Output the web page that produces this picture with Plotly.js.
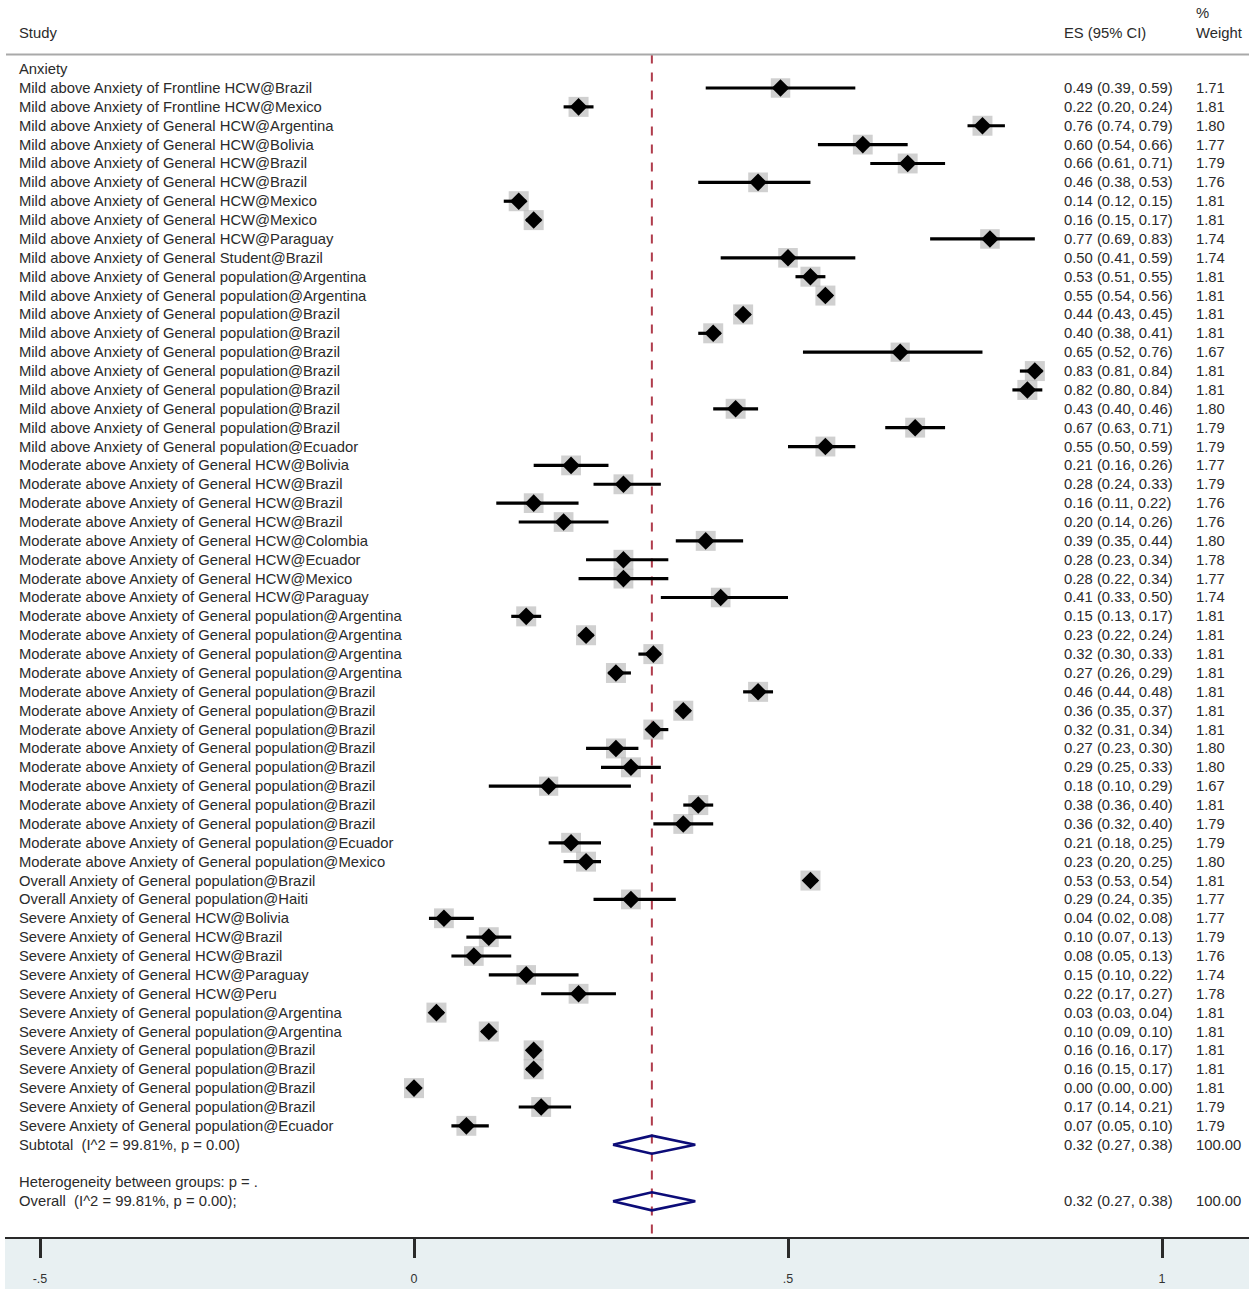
<!DOCTYPE html>
<html><head><meta charset="utf-8">
<script src="https://cdn.plot.ly/plotly-3.0.1.min.js"></script>
<style>html,body{margin:0;padding:0;background:#fff;overflow:hidden}</style>
</head><body>
<div id="chart" style="width:1249px;height:1289px"></div>
<script>
// ---------------- data ----------------
const groupTitle = "Anxiety";
const studyLabels = [
  "Mild above Anxiety of Frontline HCW@Brazil",
  "Mild above Anxiety of Frontline HCW@Mexico",
  "Mild above Anxiety of General HCW@Argentina",
  "Mild above Anxiety of General HCW@Bolivia",
  "Mild above Anxiety of General HCW@Brazil",
  "Mild above Anxiety of General HCW@Brazil",
  "Mild above Anxiety of General HCW@Mexico",
  "Mild above Anxiety of General HCW@Mexico",
  "Mild above Anxiety of General HCW@Paraguay",
  "Mild above Anxiety of General Student@Brazil",
  "Mild above Anxiety of General population@Argentina",
  "Mild above Anxiety of General population@Argentina",
  "Mild above Anxiety of General population@Brazil",
  "Mild above Anxiety of General population@Brazil",
  "Mild above Anxiety of General population@Brazil",
  "Mild above Anxiety of General population@Brazil",
  "Mild above Anxiety of General population@Brazil",
  "Mild above Anxiety of General population@Brazil",
  "Mild above Anxiety of General population@Brazil",
  "Mild above Anxiety of General population@Ecuador",
  "Moderate above Anxiety of General HCW@Bolivia",
  "Moderate above Anxiety of General HCW@Brazil",
  "Moderate above Anxiety of General HCW@Brazil",
  "Moderate above Anxiety of General HCW@Brazil",
  "Moderate above Anxiety of General HCW@Colombia",
  "Moderate above Anxiety of General HCW@Ecuador",
  "Moderate above Anxiety of General HCW@Mexico",
  "Moderate above Anxiety of General HCW@Paraguay",
  "Moderate above Anxiety of General population@Argentina",
  "Moderate above Anxiety of General population@Argentina",
  "Moderate above Anxiety of General population@Argentina",
  "Moderate above Anxiety of General population@Argentina",
  "Moderate above Anxiety of General population@Brazil",
  "Moderate above Anxiety of General population@Brazil",
  "Moderate above Anxiety of General population@Brazil",
  "Moderate above Anxiety of General population@Brazil",
  "Moderate above Anxiety of General population@Brazil",
  "Moderate above Anxiety of General population@Brazil",
  "Moderate above Anxiety of General population@Brazil",
  "Moderate above Anxiety of General population@Brazil",
  "Moderate above Anxiety of General population@Ecuador",
  "Moderate above Anxiety of General population@Mexico",
  "Overall Anxiety of General population@Brazil",
  "Overall Anxiety of General population@Haiti",
  "Severe Anxiety of General HCW@Bolivia",
  "Severe Anxiety of General HCW@Brazil",
  "Severe Anxiety of General HCW@Brazil",
  "Severe Anxiety of General HCW@Paraguay",
  "Severe Anxiety of General HCW@Peru",
  "Severe Anxiety of General population@Argentina",
  "Severe Anxiety of General population@Argentina",
  "Severe Anxiety of General population@Brazil",
  "Severe Anxiety of General population@Brazil",
  "Severe Anxiety of General population@Brazil",
  "Severe Anxiety of General population@Brazil",
  "Severe Anxiety of General population@Ecuador"
];
const es = [0.49,0.22,0.76,0.60,0.66,0.46,0.14,0.16,0.77,0.50,
            0.53,0.55,0.44,0.40,0.65,0.83,0.82,0.43,0.67,0.55,
            0.21,0.28,0.16,0.20,0.39,0.28,0.28,0.41,0.15,0.23,
            0.32,0.27,0.46,0.36,0.32,0.27,0.29,0.18,0.38,0.36,
            0.21,0.23,0.53,0.29,0.04,0.10,0.08,0.15,0.22,0.03,
            0.10,0.16,0.16,0.00,0.17,0.07];
const ciLow = [0.39,0.20,0.74,0.54,0.61,0.38,0.12,0.15,0.69,0.41,
               0.51,0.54,0.43,0.38,0.52,0.81,0.80,0.40,0.63,0.50,
               0.16,0.24,0.11,0.14,0.35,0.23,0.22,0.33,0.13,0.22,
               0.30,0.26,0.44,0.35,0.31,0.23,0.25,0.10,0.36,0.32,
               0.18,0.20,0.53,0.24,0.02,0.07,0.05,0.10,0.17,0.03,
               0.09,0.16,0.15,0.00,0.14,0.05];
const ciHigh = [0.59,0.24,0.79,0.66,0.71,0.53,0.15,0.17,0.83,0.59,
                0.55,0.56,0.45,0.41,0.76,0.84,0.84,0.46,0.71,0.59,
                0.26,0.33,0.22,0.26,0.44,0.34,0.34,0.50,0.17,0.24,
                0.33,0.29,0.48,0.37,0.34,0.30,0.33,0.29,0.40,0.40,
                0.25,0.25,0.54,0.35,0.08,0.13,0.13,0.22,0.27,0.04,
                0.10,0.17,0.17,0.00,0.21,0.10];
const weights = [1.71,1.81,1.80,1.77,1.79,1.76,1.81,1.81,1.74,1.74,
                 1.81,1.81,1.81,1.81,1.67,1.81,1.81,1.80,1.79,1.79,
                 1.77,1.79,1.76,1.76,1.80,1.78,1.77,1.74,1.81,1.81,
                 1.81,1.81,1.81,1.81,1.81,1.80,1.80,1.67,1.81,1.79,
                 1.79,1.80,1.81,1.77,1.77,1.79,1.76,1.74,1.78,1.81,
                 1.81,1.81,1.81,1.81,1.79,1.79];
const pooledES = 0.318;
const pooledLow = 0.266;
const pooledHigh = 0.376;
const pooledWeight = 100;
const subtotalLabel = "Subtotal  (I^2 = 99.81%, p = 0.00)";
const heteroLabel = "Heterogeneity between groups: p = .";
const overallLabel = "Overall  (I^2 = 99.81%, p = 0.00);";
const headerStudy = "Study";
const headerES = "ES (95% CI)";
const headerWeight1 = "%";
const headerWeight2 = "Weight";
const tickVals = [-0.5, 0, 0.5, 1];
const tickLabels = ["-.5", "0", ".5", "1"];

// ---------------- layout helpers ----------------
const W = 1249, H = 1289;
const mL = 5, mR = 0, mT = 0, mB = 52;
const zeroPx = 414, pxPerUnit = 748;
const xRange = [(mL - zeroPx) / pxPerUnit, (W - mR - zeroPx) / pxPerUnit];
const rowPx = 18.87, row1Px = 88;
const pxToRow = p => (p - row1Px) / rowPx + 1;
const yRange = [pxToRow(H - mB), pxToRow(mT)];
const plotW = W - mL - mR;
const pxToPaperX = p => (p - mL) / plotW;

const n = studyLabels.length;
const rows = studyLabels.map((_, i) => i + 1);
const subtotalRow = n + 1, heteroRow = n + 3, overallRow = n + 4;
const headerLineRow = pxToRow(54.5);

const fmt = v => v.toFixed(2);
const esText = (e, l, h) => `${fmt(e)} (${fmt(l)}, ${fmt(h)})`;

const FONT = "Liberation Sans, Arial, Helvetica, sans-serif";
const TXT = "#2b2b2b";
const FS = 14.8;
const annotations = [];
function addText(text, xpx, row, size) {
  annotations.push({
    text: text, xref: "paper", yref: "y", x: pxToPaperX(xpx), y: row,
    xanchor: "left", yanchor: "middle", showarrow: false,
    font: {family: FONT, size: size || FS, color: TXT}, borderpad: 0
  });
}
const colStudy = 18, colES = 1063, colW = 1195;
addText(headerStudy, colStudy, pxToRow(33));
addText(headerES, colES, pxToRow(33));
addText(headerWeight1, colW, pxToRow(13));
addText(headerWeight2, colW, pxToRow(33));
addText(groupTitle, colStudy, 0);
studyLabels.forEach((lab, i) => {
  addText(lab, colStudy, rows[i]);
  addText(esText(es[i], ciLow[i], ciHigh[i]), colES, rows[i]);
  addText(fmt(weights[i]), colW, rows[i]);
});
addText(subtotalLabel, colStudy, subtotalRow);
addText(esText(pooledES, pooledLow, pooledHigh), colES, subtotalRow);
addText(fmt(pooledWeight), colW, subtotalRow);
addText(heteroLabel, colStudy, heteroRow);
addText(overallLabel, colStudy, overallRow);
addText(esText(pooledES, pooledLow, pooledHigh), colES, overallRow);
addText(fmt(pooledWeight), colW, overallRow);

// ---------------- traces ----------------
const boxTrace = {
  type: "scatter", mode: "markers", x: es, y: rows, hoverinfo: "skip",
  marker: {symbol: "square", color: "#bcbcbc",
           size: weights.map(w => 20 * Math.sqrt(w / 1.81)), line: {width: 0}},
  showlegend: false
};
const pointTrace = {
  type: "scatter", mode: "markers", x: es, y: rows, hoverinfo: "skip",
  marker: {symbol: "diamond", color: "#000", size: 13.5, line: {width: 0}},
  error_x: {type: "data", symmetric: false,
            array: es.map((e, i) => ciHigh[i] - e),
            arrayminus: es.map((e, i) => e - ciLow[i]),
            color: "#000", thickness: 3.2, width: 0},
  showlegend: false
};
const dh = 0.48;
const diamondX = [], diamondY = [];
[subtotalRow, overallRow].forEach(r => {
  diamondX.push(pooledLow, pooledES, pooledHigh, pooledES, pooledLow, null);
  diamondY.push(r, r - dh, r, r + dh, r, null);
});
const diamondTrace = {
  type: "scatter", mode: "lines", x: diamondX, y: diamondY, hoverinfo: "skip",
  line: {color: "#0c0c78", width: 2.6}, showlegend: false
};

const layout = {
  width: W, height: H,
  margin: {l: mL, r: mR, t: mT, b: mB, pad: 0},
  paper_bgcolor: "#fff", plot_bgcolor: "rgba(0,0,0,0)",
  showlegend: false,
  xaxis: {range: xRange, fixedrange: true, showgrid: false, zeroline: false,
          showline: true, linecolor: "#2a2a2a", linewidth: 2,
          ticks: "outside", ticklen: 19, tickwidth: 3, tickcolor: "#2a2a2a",
          tickvals: tickVals, ticktext: tickLabels, ticklabelstandoff: 10,
          tickfont: {family: FONT, size: 12.5, color: "#333"}},
  yaxis: {range: yRange, fixedrange: true, visible: false},
  shapes: [
    {type: "rect", xref: "paper", yref: "paper", x0: 0, x1: 1, y0: 0, y1: -0.06,
     fillcolor: "#e8f0f2", line: {width: 0}, layer: "below"},
    {type: "line", xref: "paper", yref: "y", x0: pxToPaperX(6), x1: 1,
     y0: headerLineRow, y1: headerLineRow, line: {color: "#a9a9a9", width: 2.2}},
    {type: "line", xref: "x", yref: "y", x0: pooledES, x1: pooledES,
     y0: headerLineRow, y1: yRange[0],
     line: {color: "#b03c4c", width: 2, dash: "9px,9px"}, layer: "below"}
  ],
  annotations: annotations
};

Plotly.newPlot("chart", [boxTrace, pointTrace, diamondTrace], layout,
               {staticPlot: true, displayModeBar: false});
</script>
</body></html>
